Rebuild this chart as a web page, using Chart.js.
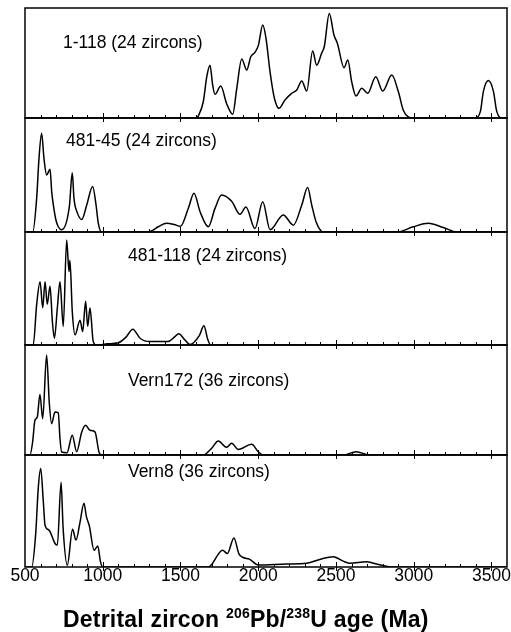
<!DOCTYPE html>
<html>
<head>
<meta charset="utf-8">
<script src="https://cdn.jsdelivr.net/npm/chart.js@4/dist/chart.umd.min.js"></script>
<style>
  html, body { margin: 0; padding: 0; background: #fff; }
  #wrap { position: relative; width: 511px; height: 632px; }
  #title {
    position: absolute; left: 63px; top: 608px;
    font: bold 23px "Liberation Sans", Arial, sans-serif; line-height: 23px;
    letter-spacing: 0.2px;
    white-space: nowrap; color: #000;
  }
  #title .sup { font-size: 14px; position: relative; top: -9px; }
</style>
</head>
<body>
<div id="wrap">
  <canvas id="chart" width="511" height="632"></canvas>
  <div id="title">Detrital zircon <span class="sup">206</span>Pb/<span class="sup">238</span>U age (Ma)</div>
</div>
<script>
// sample names, top to bottom
var panelNames = ['1-118 (24 zircons)', '481-45 (24 zircons)', '481-118 (24 zircons)', 'Vern172 (36 zircons)', 'Vern8 (36 zircons)'];

// x tick labels (Ma)
var ageTicks = [500, 1000, 1500, 2000, 2500, 3000, 3500];

// probability density, % of panel height
var age1 = [500, 1600, 1615, 1647, 1669, 1690, 1707, 1722, 1759, 1797, 1836, 1862, 1894, 1926, 1952, 1979, 2001, 2029, 2050, 2076, 2104, 2134, 2172, 2215, 2248, 2280, 2312, 2350, 2376, 2408, 2425, 2457, 2487, 2509, 2552, 2576, 2601, 2629, 2666, 2704, 2756, 2801, 2859, 2901, 2933, 2965, 2998, 3394, 3429, 3448, 3480, 3513, 3534, 3566, 3600];
var dens1 = [0, 0, 2, 15, 37.5, 48, 30, 21.5, 29, 13, 3.4, 27, 53.6, 43.6, 55.7, 59.7, 66, 84.5, 72.4, 42, 18, 8.8, 16.4, 22.4, 25.5, 33.6, 24.5, 61, 48, 59, 65, 95, 75.5, 68, 45.7, 52.7, 33, 20, 27, 22.5, 37.5, 24.5, 39, 24, 7, 1, 0, 0, 6, 24, 34, 24, 6, 0, 0];

var age2 = [500, 550, 575, 590, 607, 622, 639, 661, 672, 682, 699, 714, 736, 785, 804, 815, 836, 865, 897, 935, 957, 971, 993, 1240, 1304, 1357, 1411, 1460, 1500, 1551, 1587, 1626, 1679, 1722, 1765, 1829, 1883, 1921, 1979, 2029, 2076, 2161, 2226, 2280, 2318, 2344, 2372, 2419, 2891, 2998, 3094, 3190, 3277, 3600];
var dens2 = [0, 0, 29.5, 64.6, 86.6, 64.6, 50, 55, 35, 24, 10.5, 4.6, 2, 22, 52, 29.5, 17, 11, 23.7, 40, 23.7, 8, 0, 0, 0.5, 4.6, 7.6, 6.5, 5, 21, 34, 17.8, 4.6, 20.7, 32.5, 27, 15.5, 22, 3, 26.6, 2, 15, 6, 23.7, 39, 23.7, 9, 0, 0, 4.6, 7.6, 4, 0, 0];

var age3 = [500, 553, 575, 597, 614, 629, 643, 661, 676, 689, 708, 725, 746, 768, 783, 789, 804, 822, 854, 871, 890, 903, 918, 939, 960, 1030, 1100, 1150, 1193, 1240, 1304, 1420, 1460, 1490, 1525, 1561, 1620, 1651, 1675, 1694, 3600];
var dens3 = [0, 0, 35.7, 56, 33, 56, 36, 52, 21, 6, 32.7, 56, 16.5, 93, 65, 75, 29.8, 9, 22, 12, 38.7, 16.5, 32.7, 3, 0, 1, 2, 7, 14, 6, 3, 3, 7, 10, 5, 0.5, 8, 17, 5, 0, 0];

var age4 = [500, 532, 549, 564, 579, 596, 614, 639, 656, 671, 693, 714, 725, 736, 770, 804, 832, 865, 890, 918, 950, 976, 990, 1647, 1700, 1743, 1797, 1829, 1872, 1958, 2000, 2033, 2548, 2629, 2719, 3600];
var dens4 = [0, 0, 11.8, 31.5, 34.5, 55, 33, 91, 48, 28.5, 39, 38.5, 14.8, 2.7, 2, 18, 3, 21, 27, 22.5, 21, 2.7, 0, 0, 6, 12.7, 7, 10.6, 5, 9.7, 3, 0, 0, 3, 0, 0];

var age5 = [500, 543, 569, 585, 601, 618, 629, 654, 693, 708, 732, 745, 772, 806, 828, 854, 879, 895, 914, 944, 968, 985, 1000, 1679, 1771, 1801, 1844, 1875, 1900, 1943, 2001, 2183, 2312, 2400, 2483, 2550, 2590, 2697, 2780, 2869, 3600];
var dens5 = [0, 0, 30, 70, 88, 58, 37, 33, 21, 19.6, 75.6, 35, 1.5, 33.6, 24, 40, 57, 45, 36.6, 15, 18.8, 5, 0, 0, 15, 12, 26, 12, 8.7, 7, 1.8, 2.7, 3.3, 7, 9.2, 5, 3.3, 4.7, 2, 0, 0];

var ages = [age1, age2, age3, age4, age5];
var dens = [dens1, dens2, dens3, dens4, dens5];

// panel layout: relative heights, label anchor (age, px below panel top)
var panelWeights = [110, 114, 113, 110, 112];
var labelAt = [[744, 40], [764, 28], [1162, 29], [1162, 41], [1162, 22]];

var FONT = '"Liberation Sans", Arial, sans-serif';

var datasets = ages.map(function(a, i) {
  return {
    label: panelNames[i],
    data: a.map(function(v, j) { return {x: v, y: dens[i][j]}; }),
    yAxisID: 'y' + (i + 1),
    borderColor: '#000',
    borderWidth: 1.5,
    pointRadius: 0,
    fill: false,
    cubicInterpolationMode: 'monotone'
  };
});

var scales = {
  x: {
    type: 'linear',
    min: 500,
    max: 3600,
    grid: { display: false, drawTicks: false },
    border: { display: false },
    afterBuildTicks: function(s) {
      s.ticks = ageTicks.map(function(v) { return {value: v}; });
    },
    afterFit: function(s) {
      s.height = 65;
      s.paddingLeft = 0;
      s.paddingRight = 0;
    },
    ticks: {
      color: '#000',
      padding: 0,
      maxRotation: 0,
      font: { family: FONT, size: 17.5, lineHeight: 1 },
      callback: function(v) { return String(v); }
    }
  }
};
panelWeights.forEach(function(w, i) {
  scales['y' + (i + 1)] = {
    type: 'linear',
    min: 0,
    max: 100,
    display: false,
    position: 'left',
    stack: 'panels',
    stackWeight: w,
    weight: 10 - i
  };
});

// boxes, tick marks and sample labels for every panel
var panelPlugin = {
  id: 'panels',
  afterDatasetsDraw: function(chart) {
    var ctx = chart.ctx;
    var x = chart.scales.x;
    ctx.save();
    ctx.strokeStyle = '#000';
    ctx.fillStyle = '#000';
    panelNames.forEach(function(name, i) {
      var s = chart.scales['y' + (i + 1)];
      ctx.lineWidth = 1.5;
      ctx.strokeRect(x.left, s.top, x.right - x.left, s.bottom - s.top);
      ctx.lineWidth = 1;
      ctx.beginPath();
      for (var v = 600; v <= 3500; v += 100) {
        var px = Math.round(x.getPixelForValue(v)) + 0.5;
        var major = v % 500 === 0;
        ctx.moveTo(px, s.bottom - (major ? 5 : 3));
        ctx.lineTo(px, s.bottom + (major ? 4 : 0));
      }
      ctx.stroke();
      ctx.font = '17.5px ' + FONT;
      ctx.textBaseline = 'alphabetic';
      ctx.fillText(name, x.getPixelForValue(labelAt[i][0]), s.top + labelAt[i][1]);
    });
    ctx.restore();
  }
};

new Chart(document.getElementById('chart'), {
  type: 'line',
  data: { datasets: datasets },
  options: {
    responsive: false,
    animation: false,
    layout: { padding: { left: 25, right: 4, top: 8, bottom: 0 } },
    plugins: {
      legend: { display: false },
      tooltip: { enabled: false }
    },
    scales: scales
  },
  plugins: [panelPlugin]
});
</script>
</body>
</html>
